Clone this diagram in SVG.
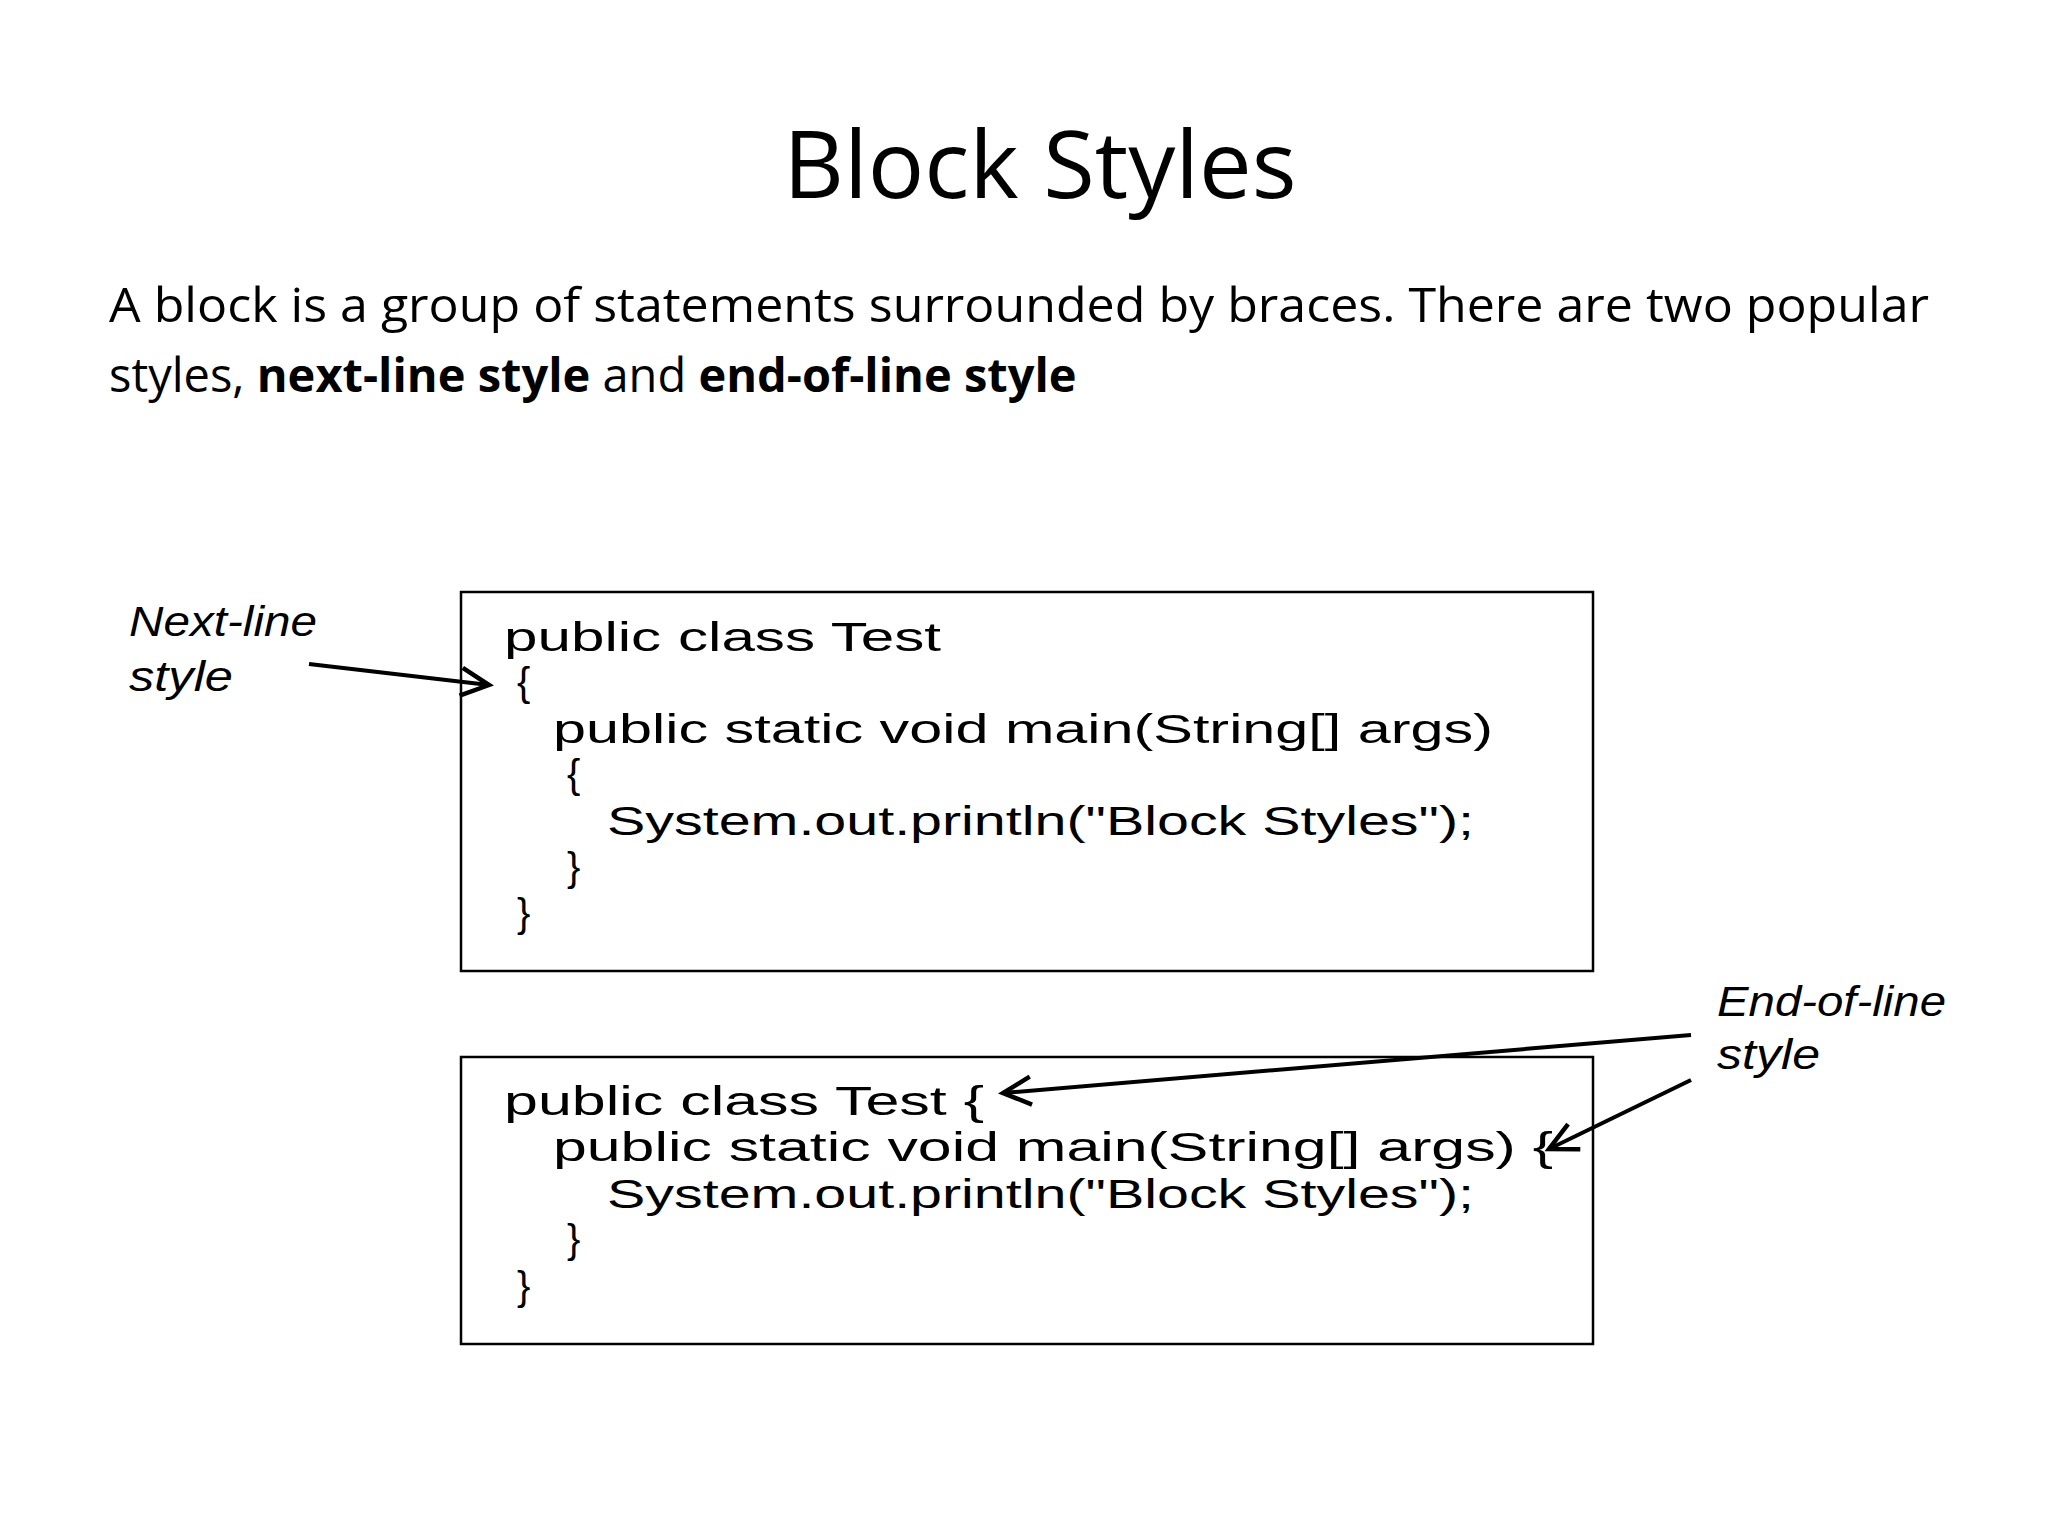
<svg xmlns="http://www.w3.org/2000/svg" width="2048" height="1536" viewBox="0 0 2048 1536">
<style>
.t{font-family:"Open Sans","Noto Sans",sans-serif;fill:#000}
.c{font-family:"Liberation Sans",Arial,sans-serif;font-size:40px;fill:#000}
.l{font-family:"Liberation Sans",Arial,sans-serif;font-style:italic;font-size:42px;fill:#000}
.box{fill:#fff;stroke:#000;stroke-width:2.5}
</style>
<defs>
<marker id="ah2" markerWidth="36" markerHeight="36" refX="30" refY="18" orient="auto" markerUnits="userSpaceOnUse" viewBox="0 0 36 36"><path d="M2,4 L30,18 L2,32" fill="none" stroke="#000" stroke-width="4.5"/></marker></defs>
<rect width="2048" height="1536" fill="#fff"/>
<g id="title"><text class="t" x="1040" y="198" font-size="94" text-anchor="middle">Block Styles</text></g>
<g id="intro">
<text class="t" x="109" y="322" font-size="47" textLength="1820" lengthAdjust="spacingAndGlyphs">A block is a group of statements surrounded by braces. There are two popular</text>
<text class="t" x="109" y="392" font-size="47">styles, <tspan font-weight="bold">next-line style</tspan> and <tspan font-weight="bold">end-of-line style</tspan></text>
</g>
<g id="box1">
<rect class="box" x="461" y="592" width="1132" height="379"/>
<text class="c" x="504" y="651" textLength="437" lengthAdjust="spacingAndGlyphs">public class Test</text>
<text class="c" x="517" y="696">{</text>
<text class="c" x="553" y="743" textLength="940" lengthAdjust="spacingAndGlyphs">public static void main(String[] args)</text>
<text class="c" x="567" y="788">{</text>
<text class="c" x="607" y="835" textLength="867" lengthAdjust="spacingAndGlyphs">System.out.println("Block Styles");</text>
<text class="c" x="567" y="881">}</text>
<text class="c" x="517" y="927">}</text>
</g>
<g id="box2">
<rect class="box" x="461" y="1057" width="1132" height="287"/>
<text class="c" x="504" y="1115" textLength="480" lengthAdjust="spacingAndGlyphs">public class Test {</text>
<text class="c" x="553" y="1161" textLength="1000" lengthAdjust="spacingAndGlyphs">public static void main(String[] args) {</text>
<text class="c" x="607" y="1208" textLength="867" lengthAdjust="spacingAndGlyphs">System.out.println("Block Styles");</text>
<text class="c" x="567" y="1253">}</text>
<text class="c" x="517" y="1300">}</text>
</g>
<g id="label-next">
<text class="l" x="129" y="636" textLength="188" lengthAdjust="spacingAndGlyphs">Next-line</text>
<text class="l" x="129" y="691" textLength="104" lengthAdjust="spacingAndGlyphs">style</text>
</g>
<g id="label-end">
<text class="l" x="1717" y="1016" textLength="229" lengthAdjust="spacingAndGlyphs">End-of-line</text>
<text class="l" x="1717" y="1069" textLength="103" lengthAdjust="spacingAndGlyphs">style</text>
</g>
<g id="connectors" stroke="#000" stroke-width="4" fill="none">
<line x1="309" y1="664" x2="489" y2="685" marker-end="url(#ah2)"/>
<line x1="1691" y1="1035" x2="1003" y2="1093" marker-end="url(#ah2)"/>
<line x1="1691" y1="1080" x2="1549" y2="1149" marker-end="url(#ah2)"/>
</g>
</svg>
